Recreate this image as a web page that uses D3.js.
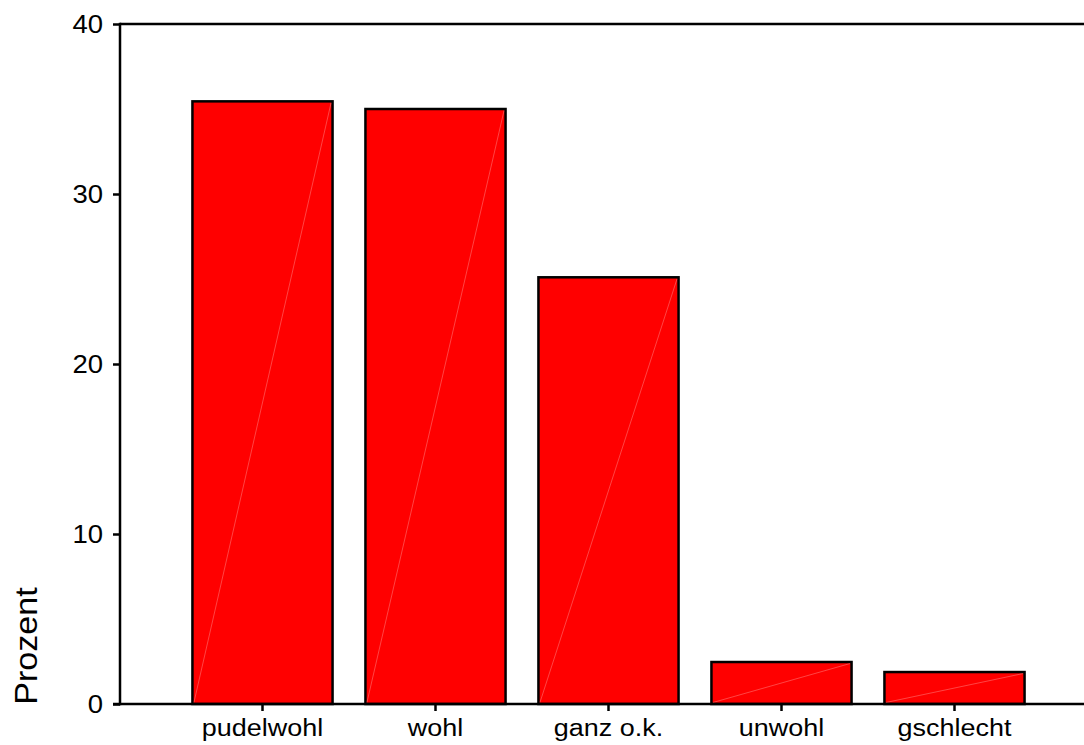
<!DOCTYPE html>
<html>
<head>
<meta charset="utf-8">
<script src="https://cdn.jsdelivr.net/npm/d3@7"></script>
<style>
  html, body { margin: 0; padding: 0; background: #fff; }
  svg { display: block; }
  text { font-family: "Liberation Sans", Arial, sans-serif; fill: #000; }
</style>
</head>
<body>
<svg id="chart" width="1084" height="745"></svg>
<script>
const categories = ["pudelwohl", "wohl", "ganz o.k.", "unwohl", "gschlecht"];
const values = [35.45, 35.0, 25.1, 2.47, 1.88];
const yTicks = [0, 10, 20, 30, 40];
const yTitle = "Prozent";

const svg = d3.select("#chart");
const axisX = 120, baseY = 704, topY = 24, rightX = 1084;
const stretch = 1.1;

const x = d3.scaleBand().domain(categories).range([176, 1041])
  .paddingInner(0.19).paddingOuter(0.095);
const y = d3.scaleLinear().domain([0, 40]).range([baseY, topY]);

// bars
const bars = svg.append("g");
categories.forEach((c, i) => {
  const x0 = x(c), w = x.bandwidth(), y0 = y(values[i]);
  bars.append("rect")
    .attr("x", x0).attr("y", y0)
    .attr("width", w).attr("height", baseY - y0)
    .attr("fill", "#ff0000")
    .attr("stroke", "#000").attr("stroke-width", 2.5);
  bars.append("line")
    .attr("x1", x0 + 1.5).attr("y1", baseY - 1.5)
    .attr("x2", x0 + w - 1.5).attr("y2", y0 + 1.5)
    .attr("stroke", "#ffffff").attr("stroke-opacity", 0.45).attr("stroke-width", 0.6);
});

// y axis
const yAxis = d3.axisLeft(y).tickValues(yTicks).tickSize(7).tickPadding(10).tickFormat(d3.format("d"));
const gy = svg.append("g").attr("transform", `translate(${axisX},0)`).call(yAxis);
gy.select(".domain").remove();
gy.selectAll(".tick line").attr("stroke", "#000").attr("stroke-width", 2.5);
gy.selectAll(".tick text")
  .attr("font-size", 25).attr("font-family", "Liberation Sans, Arial, sans-serif").attr("fill", "#000")
  .each(function() {
    const t = d3.select(this);
    const xv = +t.attr("x");
    t.attr("x", 0).attr("transform", `translate(${xv},0) scale(${stretch},1)`);
  });
svg.append("line").attr("x1", axisX).attr("x2", axisX).attr("y1", topY - 1.25).attr("y2", baseY + 1.25)
  .attr("stroke", "#000").attr("stroke-width", 2.5);

// top frame line
svg.append("line").attr("x1", axisX).attr("x2", rightX).attr("y1", topY).attr("y2", topY)
  .attr("stroke", "#000").attr("stroke-width", 2.5);

// x axis
const xAxis = d3.axisBottom(x).tickSize(7).tickPadding(8);
const gx = svg.append("g").attr("transform", `translate(0,${baseY})`).call(xAxis);
gx.select(".domain").remove();
gx.selectAll(".tick line").attr("stroke", "#000").attr("stroke-width", 2.5);
gx.selectAll(".tick text")
  .attr("font-size", 24.5).attr("font-family", "Liberation Sans, Arial, sans-serif").attr("fill", "#000")
  .attr("transform", `scale(${stretch},1)`);
svg.append("line").attr("x1", axisX - 7).attr("x2", rightX).attr("y1", baseY).attr("y2", baseY)
  .attr("stroke", "#000").attr("stroke-width", 2.5);

// y title
svg.append("text")
  .attr("transform", `translate(37,646) rotate(-90) scale(${stretch},1)`)
  .attr("text-anchor", "middle")
  .attr("font-size", 31)
  .text(yTitle);
</script>
</body>
</html>
